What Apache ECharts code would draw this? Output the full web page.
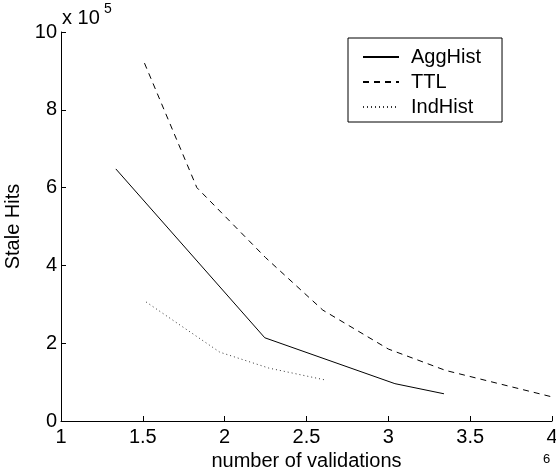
<!DOCTYPE html>
<html><head><meta charset="utf-8">
<script src="https://cdn.jsdelivr.net/npm/echarts@6/dist/echarts.min.js"></script>
<style>html,body{margin:0;padding:0;background:#fff}#c{width:556px;height:471px}</style>
</head><body><div id="c"></div>
<script>
// x values in units of 1e6, y values in units of 1e5
var aggHistX = [1.335, 2.245, 3.04, 3.34];
var aggHistY = [6.48, 2.14, 0.96, 0.70];
var ttlX = [1.51, 1.83, 2.25, 2.6, 3.0, 3.35, 4.0];
var ttlY = [9.2, 6.0, 4.2, 2.85, 1.85, 1.3, 0.62];
var indHistX = [1.52, 1.97, 2.27, 2.62];
var indHistY = [3.06, 1.77, 1.36, 1.05];
var xTicks = {min: 1, max: 4, interval: 0.5};
var yTicks = {min: 0, max: 10, interval: 2};
var seriesNames = ['AggHist', 'TTL', 'IndHist'];

function pairs(xs, ys){ return xs.map(function(x,i){return [x, ys[i]];}); }
var FONT = 'Liberation Sans, Arial, Helvetica, sans-serif';
var FS = 20;
var chart = echarts.init(document.getElementById('c'), null, {renderer:'canvas'});
var axisCommon = {
  axisLine: {show:true, lineStyle:{color:'#000', width:1}},
  axisTick: {show:true, inside:true, length:5, lineStyle:{color:'#000'}},
  splitLine: {show:false}
};
chart.setOption({
  animation:false,
  backgroundColor:'#fff',
  grid:{left:61, right:4, top:32, bottom:50, containLabel:false, outerBoundsMode:'none'},
  xAxis: Object.assign({type:'value', min:xTicks.min, max:xTicks.max, interval:xTicks.interval,
    name:'number of validations', nameLocation:'middle', nameGap:28,
    nameTextStyle:{color:'#000', fontSize:FS, fontFamily:FONT}}, axisCommon,
    {axisLabel:{color:'#000', fontSize:FS, fontFamily:FONT, margin:6, showMaxLabel:true}}),
  yAxis: Object.assign({type:'value', min:yTicks.min, max:yTicks.max, interval:yTicks.interval,
    name:'Stale Hits', nameLocation:'middle', nameGap:30,
    nameTextStyle:{color:'#000', fontSize:FS, fontFamily:FONT}}, axisCommon,
    {axisLabel:{color:'#000', fontSize:FS, fontFamily:FONT, margin:4}}),
  legend:{
    orient:'vertical', left:348, top:38,
    data:seriesNames,
    itemWidth:36, itemHeight:14, itemGap:5,
    padding:[9, 21, 5, 14],
    borderColor:'#000', borderWidth:1, backgroundColor:'#fff',
    itemStyle:{opacity:0},
    textStyle:{color:'#000', fontSize:FS, fontFamily:FONT, padding:[0,0,0,7]}
  },
  series:[
    {name:seriesNames[0], type:'line', data:pairs(aggHistX, aggHistY), symbol:'none',
     lineStyle:{color:'#000', width:1, type:'solid'}, itemStyle:{color:'#000'}},
    {name:seriesNames[1], type:'line', data:pairs(ttlX, ttlY), symbol:'none',
     lineStyle:{color:'#000', width:1, type:[6,5]}, itemStyle:{color:'#000'}},
    {name:seriesNames[2], type:'line', data:pairs(indHistX, indHistY), symbol:'none',
     lineStyle:{color:'#333', width:1, type:[1,3]}, itemStyle:{color:'#333'}}
  ],
  graphic:[
    {type:'text', left:62, top:8, style:{text:'x 10', fill:'#000', font:FS+'px '+FONT}},
    {type:'text', left:104, top:2, style:{text:'5', fill:'#000', font:'14px '+FONT}},
    {type:'text', left:543, top:453, style:{text:'6', fill:'#000', font:'13px '+FONT}}
  ]
});
</script></body></html>
